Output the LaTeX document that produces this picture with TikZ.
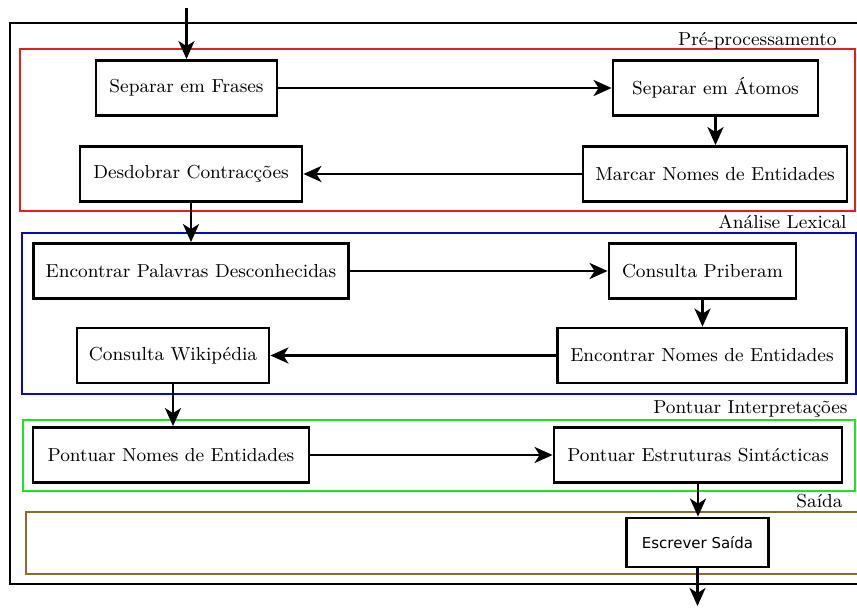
\documentclass[tikz,border=0pt]{standalone}
\usepackage{fontspec}
\usepackage{tikz}
\usetikzlibrary{positioning,arrows.meta,calc}
\newfontfamily\outfont{DejaVu Sans}
\definecolor{preRed}{HTML}{E41E1E}
\definecolor{lexBlue}{HTML}{0A0AB4}
\definecolor{scoreGreen}{HTML}{22E022}
\definecolor{outBrown}{HTML}{8C6A32}

\begin{document}
\begin{tikzpicture}[x=0.5pt, y=-0.5pt, >={Stealth[length=9pt, width=8pt, inset=2.5pt]},
          stage/.style={draw, line width=1.4pt, minimum height=27.5pt, inner sep=2pt, font=\fontsize{9.4}{11}\selectfont},
          outstage/.style={stage, minimum height=24.5pt, font=\outfont\fontsize{7.5}{9}\selectfont},
          frame/.style={line width=1pt},
          tag/.style={anchor=base east, inner sep=0pt, font=\fontsize{9.4}{11}\selectfont},
          flow/.style={->, line width=1.3pt}]
        \useasboundingbox (0,0) rectangle (857,611);
        \draw[line width=1.3pt] (10,23) rectangle (866,584);
        % stage frames
        \draw[frame, preRed] (20,49) rectangle (855,211);
        \draw[frame, lexBlue] (22,233) rectangle (856,394);
        \draw[frame, scoreGreen] (23,420) rectangle (855,491);
        \draw[frame, outBrown] (26,512) rectangle (862,574);
        \node[tag] (tpre) at (837,45) {Pré-processamento};
        \node[tag] (tlex) at (847,228) {Análise Lexical};
        \node[tag] (tscore) at (848,413) {Pontuar Interpretações};
        \node[tag] (tout) at (843,507) {Saída};
        % pre-processing
        \node[stage, minimum width=90.5pt] (frases) at (186.5,88) {Separar em Frases};
        \node[stage, minimum width=102.5pt] (atomos) at (715.5,88) {Separar em Átomos};
        \node[stage, minimum width=132pt] (marcar) at (715,174) {Marcar Nomes de Entidades};
        \node[stage, minimum width=111pt] (desdobrar) at (191,174) {Desdobrar Contracções};
        % lexical analysis
        \node[stage, minimum width=157.5pt] (palavras) at (191,271) {Encontrar Palavras Desconhecidas};
        \node[stage, minimum width=93.5pt] (priberam) at (702.5,271) {Consulta Priberam};
        \node[stage, minimum width=144.5pt] (entidades) at (702,355.5) {Encontrar Nomes de Entidades};
        \node[stage, minimum width=96pt] (wiki) at (173,355.5) {Consulta Wikipédia};
        % scoring
        \node[stage, minimum width=138pt] (pnomes) at (171,455) {Pontuar Nomes de Entidades};
        \node[stage, minimum width=144pt] (pestrut) at (698,455) {Pontuar Estruturas Sintácticas};
        % output
        \node[outstage, minimum width=71pt] (escrever) at (697.5,542.5) {Escrever Saída};
        \coordinate (in) at (frases.north |- 0,8);
        \coordinate (out) at (escrever.south |- 0,606);
        \draw[flow] (in) -- (frases.north);
        \foreach \a/\b in {frases/atomos, marcar/desdobrar, palavras/priberam, entidades/wiki, pnomes/pestrut} { \draw[flow] (\a) -- (\b); }
        \foreach \a/\b in {atomos/marcar, desdobrar/palavras, priberam/entidades, wiki/pnomes, pestrut/escrever} { \draw[flow] (\a.south) -- (\a.south |- \b.north); }
        \draw[flow] (escrever.south) -- (out);
      \end{tikzpicture}
\end{document}
